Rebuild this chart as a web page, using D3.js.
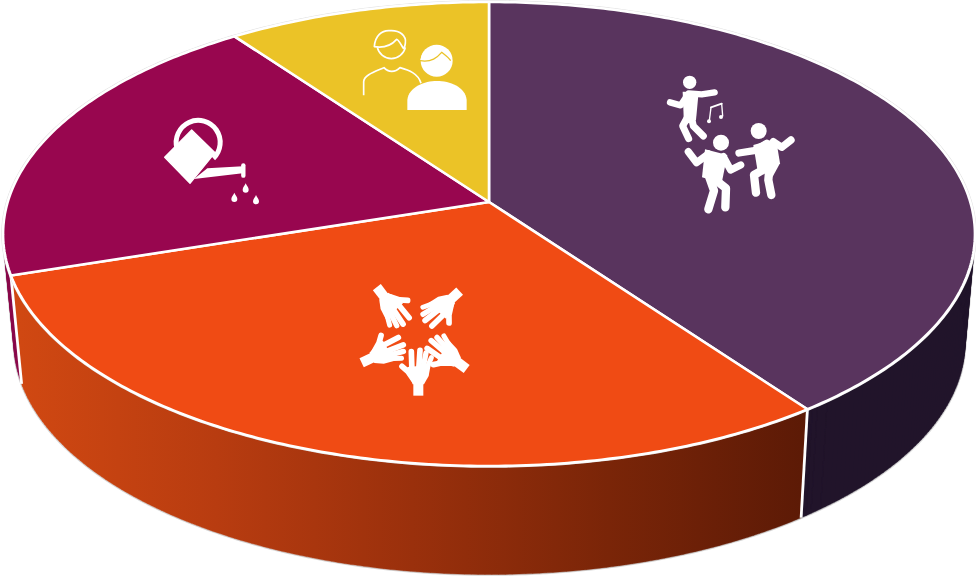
<!DOCTYPE html>
<html>
<head>
<meta charset="utf-8">
<script src="https://cdn.jsdelivr.net/npm/d3@7/dist/d3.min.js"></script>
<style>
  html, body { margin: 0; padding: 0; background: #fff; }
  svg { display: block; }
</style>
</head>
<body>
<svg id="chart" width="976" height="576"></svg>
<script>
// Share of each activity, clockwise from twelve o'clock.
const categories = ["Dancing", "Teamwork", "Gardening", "Companionship"];
const shares = [40, 30, 20, 10];
const topColors = ["#59345e", "#f04b14", "#98064f", "#ebc327"];
const wallColors = ["#21142a", "url(#wallOrange)", "#8a0a4c", "#b8961e"];

const width = 976, height = 576;
const svg = d3.select("#chart").attr("viewBox", [0, 0, width, height]);

// Perspective disc: a unit circle tipped away from the viewer.
const tilt = 0.1379;
const topFace = { cx: 489, cy: 202, a: 481.3, b: 227.6 };
const baseFace = { cx: 489.5, cy: 310.5, a: 471, b: 227.6 };

function project(face, angle) {
  const X = Math.sin(angle), Y = -Math.cos(angle);
  const w = 1 - tilt * Y;
  return [face.cx + face.a * X / w, face.cy + face.b * Y / w];
}

const pie = d3.pie().sort(null).startAngle(0).endAngle(2 * Math.PI);
const slices = pie(shares);

function arcPoints(face, a0, a1) {
  const n = Math.max(2, Math.ceil((a1 - a0) * 80));
  return d3.range(n + 1).map(i => project(face, a0 + (a1 - a0) * i / n));
}
const line = d3.line();

// A wall is a strip of small quads, all wound the same way so they merge on fill.
function wallPath(a0, a1) {
  const top = arcPoints(topFace, a0, a1), base = arcPoints(baseFace, a0, a1);
  return d3.range(top.length - 1).map(i => {
    const quad = [top[i], top[i + 1], base[i + 1], base[i]];
    if (d3.polygonArea(quad) < 0) quad.reverse();
    return line(quad) + "Z";
  }).join("");
}

// Wall shading runs from a lit left edge into shadow on the right.
const defs = svg.append("defs");
const grad = defs.append("linearGradient")
  .attr("id", "wallOrange").attr("gradientUnits", "userSpaceOnUse")
  .attr("x1", 20).attr("y1", 0).attr("x2", 805).attr("y2", 0);
[[0, "#d04812"], [0.25, "#b83c10"], [0.5, "#9a300c"], [0.75, "#7a2508"], [1, "#5c1a06"]]
  .forEach(([o, c]) => grad.append("stop").attr("offset", o).attr("stop-color", c));

// Side walls, back ones first so nearer slices overlap them.
const wallOrder = [3, 2, 0, 1];
const walls = svg.append("g");
// Faint outline around the whole solid, sitting just behind the walls.
walls.append("path").attr("d", wallPath(0, 2 * Math.PI))
  .attr("fill", "none").attr("stroke", "#d4d4d4").attr("stroke-width", 2.6);
walls.selectAll("path.wall").data(wallOrder.map(i => slices[i])).join("path")
  .attr("class", "wall")
  .attr("d", d => wallPath(d.startAngle, d.endAngle))
  .attr("fill", d => wallColors[d.index])
  .attr("stroke", d => wallColors[d.index]).attr("stroke-width", 0.4);

// White seams where two visible walls meet.
svg.append("g").selectAll("line").data([slices[1], slices[2]]).join("line")
  .attr("x1", d => project(topFace, d.startAngle)[0])
  .attr("y1", d => project(topFace, d.startAngle)[1])
  .attr("x2", d => project(baseFace, d.startAngle)[0])
  .attr("y2", d => project(baseFace, d.startAngle)[1])
  .attr("stroke", "#fff").attr("stroke-width", 2.8);

// Top faces.
svg.append("path").attr("d", line(arcPoints(topFace, 0, 2 * Math.PI)) + "Z")
  .attr("fill", "none").attr("stroke", "#e2e2e2").attr("stroke-width", 3.6);
svg.append("g").selectAll("path").data(slices).join("path")
  .attr("d", d => line([[topFace.cx, topFace.cy]].concat(arcPoints(topFace, d.startAngle, d.endAngle))) + "Z")
  .attr("fill", d => topColors[d.index])
  .attr("stroke", "#fff").attr("stroke-width", 2.6).attr("stroke-linejoin", "round");

// ---- White pictograms, each authored at 3x and scaled down ----
function glyph(x, y) {
  return svg.append("g").attr("transform", `translate(${x},${y}) scale(${1 / 3})`);
}
function limb(g, d, w) {
  g.append("path").attr("d", d).attr("fill", "none").attr("stroke", "#fff")
    .attr("stroke-width", w).attr("stroke-linecap", "round").attr("stroke-linejoin", "round");
}
function solid(g, d, fill = "#fff") {
  return g.append("path").attr("d", d).attr("fill", fill);
}
function dot(g, x, y, r, fill = "#fff") {
  return g.append("circle").attr("cx", x).attr("cy", y).attr("r", r).attr("fill", fill);
}

// Three dancers and a note.
{
  const g = glyph(640, 60);
  dot(g, 149, 67, 20);
  limb(g, "M90,127L122,136L146,100L185,103L224,97", 19);
  solid(g, "M128,95L176,96L168,180L132,195Z");
  limb(g, "M146,165L128,198L146,236", 21);
  limb(g, "M154,170L160,198L190,228", 21);
  limb(g, "M213,142L245,131", 6);
  limb(g, "M213,142L208,182M245,131L248,168", 4);
  dot(g, 207, 184, 6); dot(g, 243, 171, 6);

  dot(g, 243, 248, 24);
  limb(g, "M145,275L170,308L205,282", 22);
  limb(g, "M250,290L272,330L302,315", 22);
  solid(g, "M195,268L262,285L245,370L186,352Z");
  limb(g, "M208,352L222,392L205,448", 25);
  limb(g, "M224,358L258,385L256,442", 25);

  dot(g, 356, 213, 24);
  limb(g, "M297,279L342,272L380,250", 22);
  limb(g, "M400,245L425,262L453,240", 22);
  solid(g, "M340,255L408,236L420,310L398,350L352,328Z");
  limb(g, "M372,328L342,345L348,398", 25);
  limb(g, "M388,325L385,360L394,405", 25);
}

// Ring of five open hands.
{
  const g = glyph(340, 275).append("g").attr("transform", "translate(228,178)");
  [0, -53.5, -132.5, 142.5, 64.5].forEach(turn => {
    const h = g.append("g").attr("transform", `rotate(${turn})`);
    solid(h, "M-8,142L22,142L22,184L-8,184Z");
    solid(h, "M-26,98L44,92L38,125L24,150L-10,150L-18,130Z");
    limb(h, "M-14,52L-12,112", 17);
    limb(h, "M12,48L8,108", 17);
    limb(h, "M30,56L20,108", 16);
    limb(h, "M46,70L28,112", 15);
    limb(h, "M-42,96L-24,112L-8,135", 17);
  });
}

// Watering can.
{
  const g = glyph(150, 105);
  g.append("path").attr("d", "M81,130A66,66 0 1 1 190,160").attr("fill", "none")
    .attr("stroke", "#fff").attr("stroke-width", 15);
  solid(g, "M125,75L195,143L120,235L44,157Z")
    .attr("stroke", "#fff").attr("stroke-width", 4).attr("stroke-linejoin", "round");
  solid(g, "M172,190L278,184L278,205L132,222Z");
  limb(g, "M280,181L280,212", 13);
  [[287, 250], [253, 278], [318, 285]].forEach(([x, y]) =>
    solid(g, `M${x},${y - 15}C${x + 3},${y - 7} ${x + 9},${y - 3} ${x + 9},${y + 4}A9,9 0 1 1 ${x - 9},${y + 4}C${x - 9},${y - 3} ${x - 3},${y - 7} ${x},${y - 15}Z`));
}

// Two people, one outlined and one solid.
{
  const g = glyph(350, 20);
  const thin = d => g.append("path").attr("d", d).attr("fill", "none")
    .attr("stroke", "#fff").attr("stroke-width", 5).attr("stroke-linejoin", "round");
  thin("M82,82A43,43 0 0 0 166,82");
  thin("M73,80C75,48 95,30 120,32C150,30 170,48 166,70C165,78 162,84 160,85C152,72 145,58 140,58C125,75 105,85 73,80Z");
  thin("M41,226L41,185C42,165 75,155 102,143C115,158 135,158 150,143C175,150 205,160 213,190");
  dot(g, 260, 122, 48);
  solid(g, "M215,105C235,72 290,70 306,112L300,122L275,97C262,112 240,126 210,122Z");
  g.append("path").attr("d", "M210,122C245,128 262,112 275,97C285,105 295,112 302,122")
    .attr("fill", "none").attr("stroke", "#ebc327").attr("stroke-width", 4);
  solid(g, "M172,270L172,240C176,200 225,183 260,183C300,183 346,200 350,240L350,270Z");
}
</script>
</body>
</html>
